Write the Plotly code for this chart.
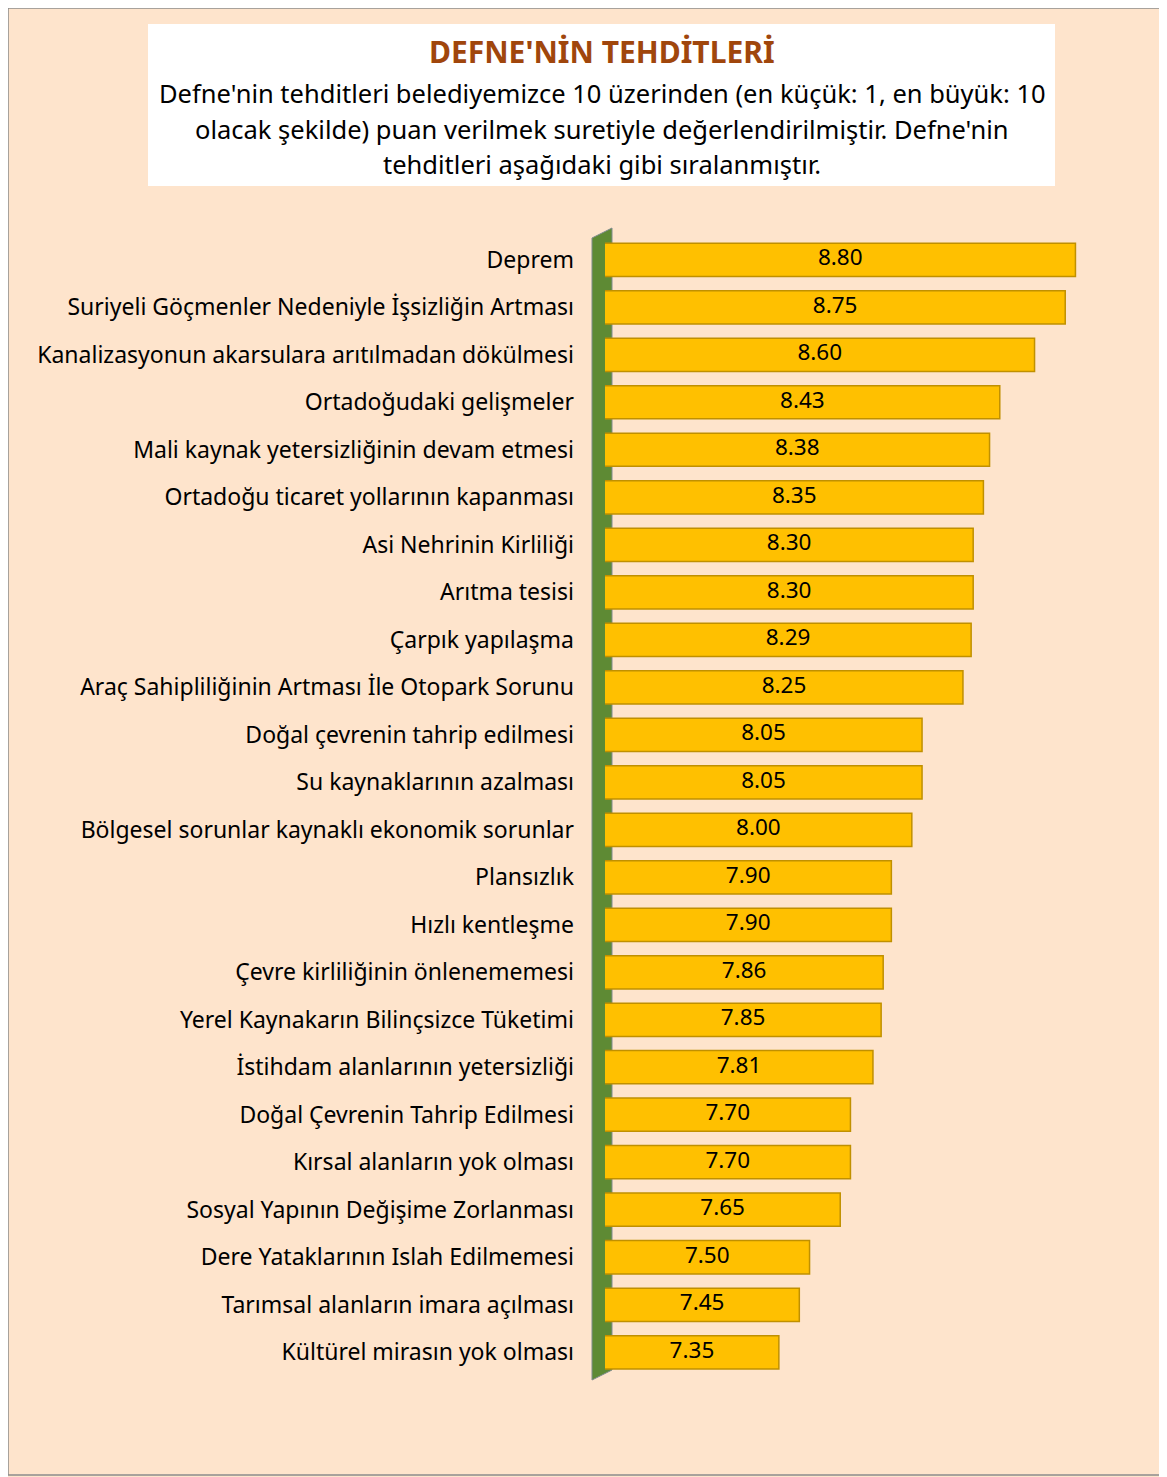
import plotly.graph_objects as go

categories = [
    "Deprem",
    "Suriyeli Göçmenler Nedeniyle İşsizliğin Artması",
    "Kanalizasyonun akarsulara arıtılmadan dökülmesi",
    "Ortadoğudaki gelişmeler",
    "Mali kaynak yetersizliğinin devam etmesi",
    "Ortadoğu ticaret yollarının kapanması",
    "Asi Nehrinin Kirliliği",
    "Arıtma tesisi",
    "Çarpık yapılaşma",
    "Araç Sahipliliğinin Artması İle Otopark Sorunu",
    "Doğal çevrenin tahrip edilmesi",
    "Su kaynaklarının azalması",
    "Bölgesel sorunlar kaynaklı ekonomik sorunlar",
    "Plansızlık",
    "Hızlı kentleşme",
    "Çevre kirliliğinin önlenememesi",
    "Yerel Kaynakarın Bilinçsizce Tüketimi",
    "İstihdam alanlarının yetersizliği",
    "Doğal Çevrenin Tahrip Edilmesi",
    "Kırsal alanların yok olması",
    "Sosyal Yapının Değişime Zorlanması",
    "Dere Yataklarının Islah Edilmemesi",
    "Tarımsal alanların imara açılması",
    "Kültürel mirasın yok olması",
]
values = [8.80, 8.75, 8.60, 8.43, 8.38, 8.35, 8.30, 8.30, 8.29, 8.25, 8.05, 8.05,
          8.00, 7.90, 7.90, 7.86, 7.85, 7.81, 7.70, 7.70, 7.65, 7.50, 7.45, 7.35]

X_MIN, X_MAX = 6.5, 8.92

W, H = 1159, 1469
L, R, T, B = 597, 1092, 228, 1368

def px(p):
    return (p - L) / (R - L)

def py(p):
    return (B - p) / (B - T)

FONT = "Noto Sans"

fig = go.Figure()
fig.add_trace(go.Bar(
    y=categories, x=values, orientation="h", base=0,
    marker=dict(color="#FFC000", line=dict(color="#C09000", width=1.5)),
    width=0.7,
    hoverinfo="skip",
))
fig.add_trace(go.Scatter(
    y=categories, x=[(X_MIN + v) / 2 for v in values],
    mode="text", text=[f"{v:.2f}" for v in values],
    textposition="middle center",
    textfont=dict(family=FONT, size=22.5, color="black"),
    hoverinfo="skip", cliponaxis=False,
))

shapes = [
    dict(type="rect", xref="paper", yref="paper", x0=px(0), x1=px(1155), y0=py(1467), y1=py(0),
         line=dict(color="#8C8C8C", width=1.5), fillcolor="rgba(0,0,0,0)", layer="below"),
    dict(type="rect", xref="paper", yref="paper", x0=px(140), x1=px(1047), y0=py(178), y1=py(16),
         line=dict(width=0), fillcolor="white", layer="below"),
    dict(type="path", xref="paper", yref="paper",
         path=f"M {px(584)},{py(230)} L {px(604)},{py(220)} L {px(604)},{py(1362)} L {px(584)},{py(1372)} Z",
         line=dict(color="#7F8C8D", width=1), fillcolor="#5E8A34", layer="below"),
]

sub_lines = [
    "Defne'nin tehditleri belediyemizce 10 üzerinden (en küçük: 1, en büyük: 10",
    "olacak şekilde) puan verilmek suretiyle değerlendirilmiştir. Defne'nin",
    "tehditleri aşağıdaki gibi sıralanmıştır.",
]
sub_y = [85, 121, 156]

annotations = [
    dict(text="<b>DEFNE'NİN TEHDİTLERİ</b>", xref="paper", yref="paper",
         x=px(594), y=py(44), xanchor="center", yanchor="middle", showarrow=False,
         font=dict(family=FONT, size=30, color="#A0460C")),
]
for line, yy in zip(sub_lines, sub_y):
    annotations.append(dict(text=line, xref="paper", yref="paper", x=px(594), y=py(yy),
                            xanchor="center", yanchor="middle", showarrow=False,
                            font=dict(family=FONT, size=25.5, color="black")))

fig.update_layout(
    width=W, height=H,
    margin=dict(l=L, r=W - R, t=T, b=H - B),
    paper_bgcolor="#FEE4CC", plot_bgcolor="#FEE4CC",
    shapes=shapes, annotations=annotations,
    showlegend=False,
    xaxis=dict(range=[X_MIN, X_MAX], visible=False),
    yaxis=dict(range=[len(categories) - 0.5, -0.5], autorange=False,
               showgrid=False, zeroline=False, showline=False,
               ticks="", ticklabelstandoff=30,
               tickfont=dict(family=FONT, size=23, color="black")),
)

fig.write_html("out.html")
